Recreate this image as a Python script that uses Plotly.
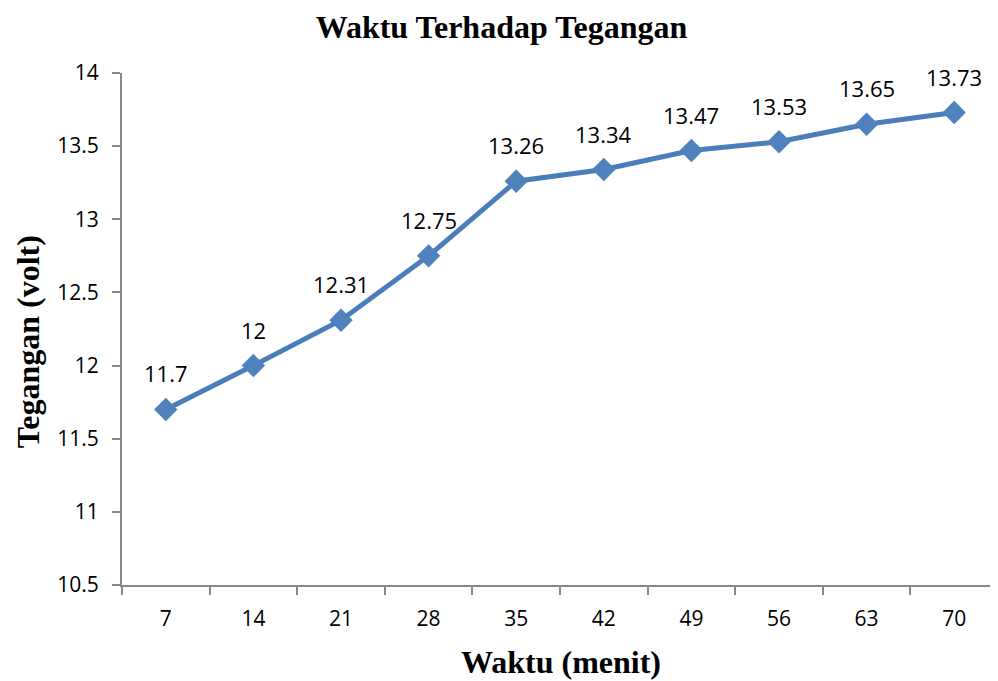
import plotly.graph_objects as go

categories = ["7", "14", "21", "28", "35", "42", "49", "56", "63", "70"]
voltage = [11.7, 12, 12.31, 12.75, 13.26, 13.34, 13.47, 13.53, 13.65, 13.73]
labels = ["11.7", "12", "12.31", "12.75", "13.26", "13.34", "13.47", "13.53", "13.65", "13.73"]
y_ticks = [10.5, 11, 11.5, 12, 12.5, 13, 13.5, 14]
y_tick_text = ["10.5", "11", "11.5", "12", "12.5", "13", "13.5", "14"]

sans = "Open Sans, Noto Sans, sans-serif"
serif = "Liberation Serif, Times New Roman, serif"

fig = go.Figure()
fig.add_trace(go.Scatter(
    x=categories, y=voltage, mode="lines+markers",
    line=dict(color="#4A7EBB", width=5),
    marker=dict(symbol="diamond", size=18, color="#4F81BD", line=dict(width=0)),
    hoverinfo="x+y", showlegend=False,
))

for i, (v, t) in enumerate(zip(voltage, labels)):
    fig.add_annotation(x=i, y=v, xref="x", yref="y", text=t, showarrow=False, yshift=36,
                       font=dict(family=sans, size=22, color="#000000"))

fig.add_annotation(text="<b>Waktu (menit)</b>", xref="paper", yref="paper", x=0.501, y=-0.150,
                   xanchor="center", yanchor="middle", showarrow=False,
                   font=dict(family=serif, size=32, color="#000000"))
fig.add_annotation(text="<b>Tegangan (volt)</b>", xref="paper", yref="paper", x=-0.108, y=0.475,
                   xanchor="center", yanchor="middle", textangle=-90, showarrow=False,
                   font=dict(family=serif, size=32, color="#000000"))

fig.update_layout(
    width=998, height=681,
    paper_bgcolor="white", plot_bgcolor="white",
    margin=dict(l=114, r=8, t=65, b=104, autoexpand=False),
    title=dict(text="<b>Waktu Terhadap Tegangan</b>", xref="container", x=0.4945, xanchor="center",
               yref="container", y=1 - 19 / 681, yanchor="middle",
               font=dict(family=serif, size=32, color="#000000")),
    xaxis=dict(
        type="category", range=[-0.5, 9.5], tickson="boundaries", automargin=False,
        showline=True, linecolor="#888888", linewidth=2,
        ticks="outside", ticklen=8, tickcolor="#888888", tickwidth=2,
        ticklabelstandoff=14,
        showgrid=False, zeroline=False,
        tickfont=dict(family=sans, size=21, color="#000000"),
    ),
    yaxis=dict(
        range=[10.5, 14], tickvals=y_ticks, ticktext=y_tick_text, automargin=False,
        showline=True, linecolor="#888888", linewidth=2,
        ticks="outside", ticklen=8, tickcolor="#888888", tickwidth=2,
        ticklabelstandoff=9,
        showgrid=False, zeroline=False,
        tickfont=dict(family=sans, size=21, color="#000000"),
    ),
)

fig.write_html("out.html")
